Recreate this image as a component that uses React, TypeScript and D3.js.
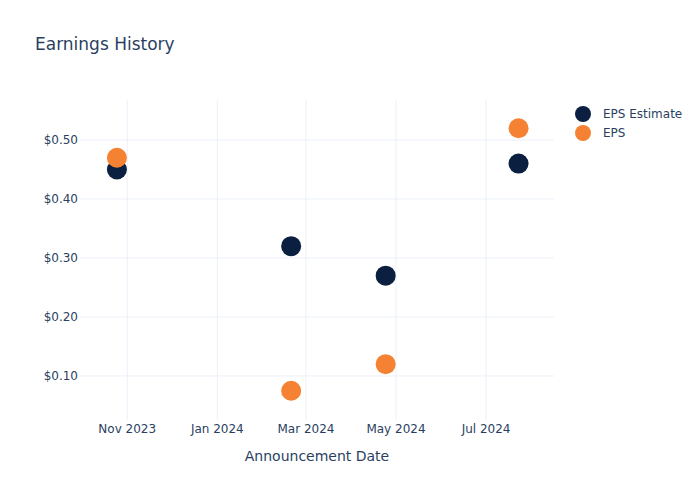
import React, { useEffect, useRef } from "react";
import * as d3 from "d3";

const dates = ["2023-10-25", "2024-02-20", "2024-04-24", "2024-07-23"];
const epsEstimate = [0.45, 0.32, 0.27, 0.46];
const epsActual = [0.47, 0.075, 0.12, 0.52];
const yTicks = [0.1, 0.2, 0.3, 0.4, 0.5];
const xTicks = ["2023-11-01", "2024-01-01", "2024-03-01", "2024-05-01", "2024-07-01"];

const seriesNames = ["EPS Estimate", "EPS"];
const seriesColors = ["#0b1f41", "#f58232"];

const App = () => {
  const svgRef = useRef<SVGSVGElement>(null);

  useEffect(() => {
    const svg = d3.select(svgRef.current);
    const width = 700;
    const height = 500;
    const margin = { top: 100, right: 146, bottom: 80, left: 80 };
    const font = "'DejaVu Sans', sans-serif";
    const textColor = "#2a3f5f";
    const gridColor = "#ebf0f8";

    svg.selectAll("*").remove();

    const parse = d3.utcParse("%Y-%m-%d");

    const x = d3.scaleUtc()
      .domain([parse("2023-09-30")!, parse("2024-08-16")!])
      .range([margin.left, width - margin.right]);

    const y = d3.scaleLinear()
      .domain([0.0254, 0.5678])
      .range([height - margin.bottom, margin.top]);

    svg.append("rect")
      .attr("width", width)
      .attr("height", height)
      .attr("fill", "white");

    // grid
    svg.append("g")
      .selectAll("line")
      .data(xTicks)
      .join("line")
      .attr("x1", d => x(parse(d)!))
      .attr("x2", d => x(parse(d)!))
      .attr("y1", margin.top)
      .attr("y2", height - margin.bottom)
      .attr("stroke", gridColor)
      .attr("stroke-width", 1);

    svg.append("g")
      .selectAll("line")
      .data(yTicks)
      .join("line")
      .attr("x1", margin.left)
      .attr("x2", width - margin.right)
      .attr("y1", d => y(d))
      .attr("y2", d => y(d))
      .attr("stroke", gridColor)
      .attr("stroke-width", 1);

    // tick labels
    svg.append("g")
      .selectAll("text")
      .data(yTicks)
      .join("text")
      .attr("x", margin.left - 2)
      .attr("y", d => y(d) + 4)
      .attr("text-anchor", "end")
      .attr("font-family", font)
      .attr("font-size", 12)
      .attr("fill", textColor)
      .text(d => "$" + d3.format(".2f")(d));

    svg.append("g")
      .selectAll("text")
      .data(xTicks)
      .join("text")
      .attr("x", d => x(parse(d)!))
      .attr("y", height - margin.bottom + 13)
      .attr("text-anchor", "middle")
      .attr("font-family", font)
      .attr("font-size", 12)
      .attr("fill", textColor)
      .text(d => d3.utcFormat("%b %Y")(parse(d)!));

    // title + axis title
    svg.append("text")
      .attr("x", 35)
      .attr("y", 50)
      .attr("font-family", font)
      .attr("font-size", 17)
      .attr("fill", textColor)
      .text("Earnings History");

    svg.append("text")
      .attr("x", (margin.left + width - margin.right) / 2)
      .attr("y", 461)
      .attr("text-anchor", "middle")
      .attr("font-family", font)
      .attr("font-size", 14)
      .attr("fill", textColor)
      .text("Announcement Date");

    // points
    const series = [epsEstimate, epsActual];
    series.forEach((vals, si) => {
      svg.append("g")
        .selectAll("circle")
        .data(vals)
        .join("circle")
        .attr("cx", (_, i) => x(parse(dates[i])!))
        .attr("cy", d => y(d))
        .attr("r", 10)
        .attr("fill", seriesColors[si]);
    });

    // legend
    const legend = svg.append("g");
    seriesNames.forEach((name, i) => {
      legend.append("circle")
        .attr("cx", 583)
        .attr("cy", 114 + i * 19)
        .attr("r", 8)
        .attr("fill", seriesColors[i]);
      legend.append("text")
        .attr("x", 603)
        .attr("y", 118 + i * 19)
        .attr("font-family", font)
        .attr("font-size", 12)
        .attr("fill", textColor)
        .text(name);
    });
  }, []);

  return <svg ref={svgRef} width={700} height={500} style={{ display: "block", position: "absolute", left: 0, top: 0 }} />;
};

export default App;
